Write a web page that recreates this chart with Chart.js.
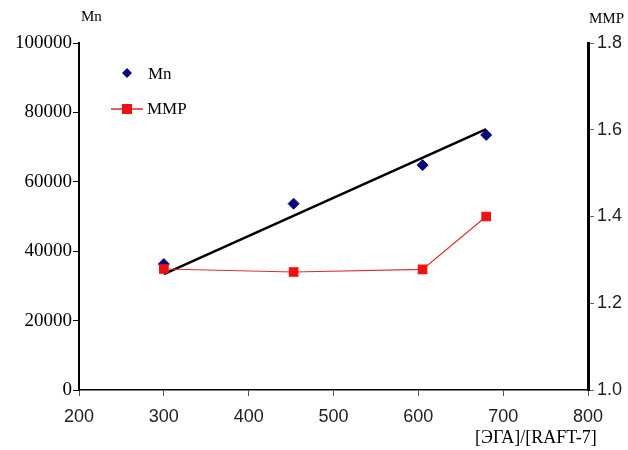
<!DOCTYPE html>
<html>
<head>
<meta charset="utf-8">
<script src="https://cdn.jsdelivr.net/npm/chart.js@4"></script>
<style>
  html, body { margin: 0; padding: 0; background: #fff; }
  #wrap { width: 628px; height: 450px; }
</style>
</head>
<body>
<div id="wrap"><canvas id="mnChart" width="628" height="450"></canvas></div>
<script>
// [ЭГА]/[RAFT-7] ratios
const ratios = [300, 453, 605, 680];
const mnValues = [36300, 53700, 64800, 73500];
const mmpValues = [1.279, 1.272, 1.278, 1.400];
// linear fit of Mn, two end points
const trendX = [300, 680];
const trendY = [33400, 75200];

const xTicks = [200, 300, 400, 500, 600, 700, 800];
const mnTicks = [0, 20000, 40000, 60000, 80000, 100000];
const mmpTicks = [1.0, 1.2, 1.4, 1.6, 1.8];

const serif = "'Liberation Serif', 'Times New Roman', serif";
const sans = "'Liberation Sans', Arial, sans-serif";

const toPoints = (xs, ys) => xs.map((x, i) => ({x, y: ys[i]}));

// titles and legend drawn on top of the chart
const extras = {
    id: 'extras',
    afterDraw(chart) {
        const c = chart.ctx;
        c.save();
        c.fillStyle = '#000';
        c.textBaseline = 'middle';
        c.textAlign = 'left';
        c.font = `15px ${serif}`;
        c.fillText('Mn', 81, 17);
        c.fillText('MMP', 589, 19);
        c.font = `18px ${serif}`;
        c.fillText('[ЭГА]/[RAFT-7]', 475, 438);

        // legend
        c.font = `17px ${serif}`;
        c.fillStyle = '#0a0a78';
        c.beginPath();
        c.moveTo(127, 68); c.lineTo(132, 73); c.lineTo(127, 78); c.lineTo(122, 73);
        c.closePath();
        c.fill();
        c.fillStyle = '#000';
        c.fillText('Mn', 148, 75);

        c.strokeStyle = '#e0262a';
        c.lineWidth = 1.5;
        c.beginPath();
        c.moveTo(111, 109); c.lineTo(143, 109);
        c.stroke();
        c.fillStyle = '#ee1111';
        c.fillRect(122, 104, 10, 10);
        c.fillStyle = '#000';
        c.fillText('MMP', 147, 110);
        c.restore();
    }
};

new Chart(document.getElementById('mnChart').getContext('2d'), {
    type: 'scatter',
    data: {
        datasets: [
            {
                label: 'MMP',
                data: toPoints(ratios, mmpValues),
                yAxisID: 'y1',
                showLine: true,
                borderColor: '#d83030',
                borderWidth: 1.2,
                pointStyle: 'rect',
                pointRadius: 6,
                pointBackgroundColor: '#ee1111',
                pointBorderColor: '#ee1111',
                order: 0,
            },
            {
                label: 'fit',
                data: toPoints(trendX, trendY),
                yAxisID: 'y',
                showLine: true,
                borderColor: '#000',
                borderWidth: 2.5,
                pointRadius: 0,
                order: 1,
            },
            {
                label: 'Mn',
                data: toPoints(ratios, mnValues),
                yAxisID: 'y',
                pointStyle: 'rectRot',
                pointRadius: 5.5,
                pointBackgroundColor: '#0a0a78',
                pointBorderColor: '#0a0a78',
                order: 2,
            }
        ]
    },
    options: {
        responsive: false,
        animation: false,
        layout: {padding: {top: 43, left: 0, right: 0, bottom: 0}},
        plugins: {legend: {display: false}, tooltip: {enabled: false}},
        scales: {
            x: {
                type: 'linear',
                min: xTicks[0],
                max: xTicks[xTicks.length - 1],
                afterBuildTicks: s => { s.ticks = xTicks.map(v => ({value: v})); },
                afterFit: s => { s.height = 60; },
                border: {color: '#000', width: 1.5},
                grid: {drawOnChartArea: false, tickLength: 6, color: '#555'},
                ticks: {color: '#222', font: {family: sans, size: 18}, padding: 10},
            },
            y: {
                position: 'left',
                min: 0,
                max: 100000,
                afterBuildTicks: s => { s.ticks = mnTicks.map(v => ({value: v})); },
                afterFit: s => { s.width = 79; },
                border: {color: '#000', width: 2},
                grid: {drawOnChartArea: false, tickLength: 6, color: '#000'},
                ticks: {
                    color: '#000',
                    font: {family: serif, size: 19},
                    padding: 1,
                    callback: v => String(v),
                },
            },
            y1: {
                position: 'right',
                min: 1.0,
                max: 1.8,
                afterBuildTicks: s => { s.ticks = mmpTicks.map(v => ({value: v})); },
                afterFit: s => { s.width = 40; },
                border: {color: '#000', width: 3},
                grid: {drawOnChartArea: false, tickLength: 6, color: '#666'},
                ticks: {
                    color: '#222',
                    font: {family: sans, size: 18},
                    padding: 3,
                    callback: v => v.toFixed(1),
                },
            }
        }
    },
    plugins: [extras]
});
</script>
</body>
</html>
